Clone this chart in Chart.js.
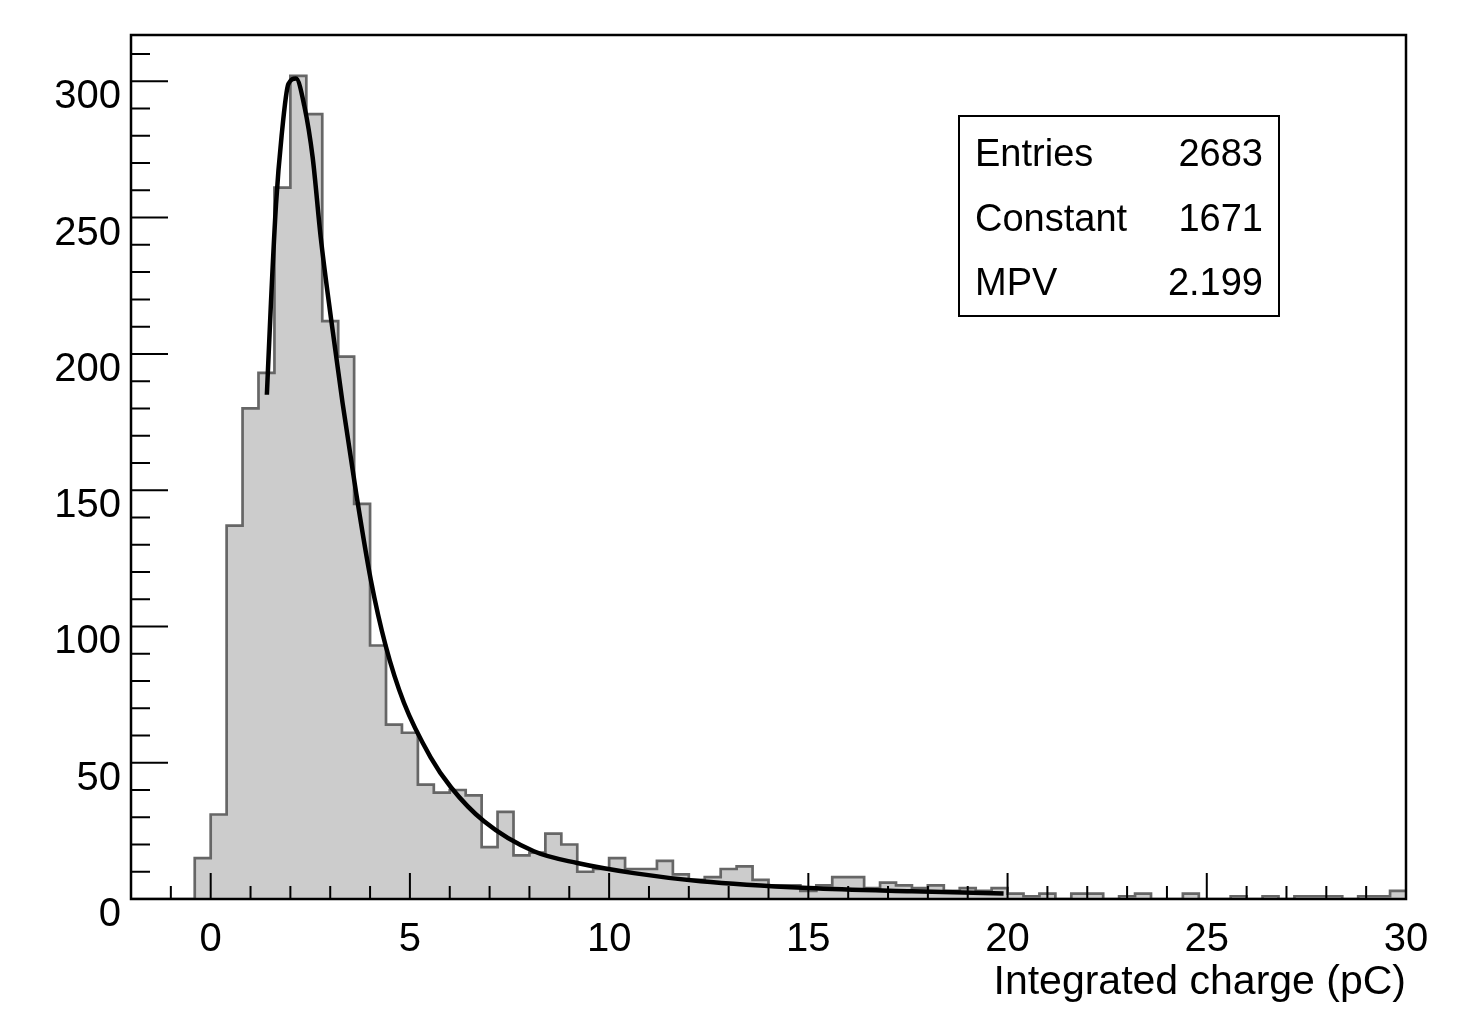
<!DOCTYPE html>
<html>
<head>
<meta charset="utf-8">
<script src="https://cdn.jsdelivr.net/npm/chart.js@4.4.1/dist/chart.umd.min.js"></script>
<style>
  body { margin: 0; background: #fff; }
  #wrap { width: 1457px; height: 1010px; }
</style>
</head>
<body>
<div id="wrap"><canvas id="histChart"></canvas></div>
<script>
// histogram: 80 bins of 0.4 pC from -2 to 30
const binLow = -2;
const binWidth = 0.4;
const counts = [
  0, 0, 0, 0, 15, 31, 137, 180, 193, 261,
  302, 288, 212, 199, 145, 93, 64, 61, 42, 39,
  40, 38, 19, 32, 16, 17, 24, 20, 10, 11,
  15, 11, 11, 14, 9, 7, 8, 11, 12, 7,
  5, 5, 3, 5, 8, 8, 4, 6, 5, 4,
  5, 3, 4, 3, 4, 2, 1, 2, 0, 2,
  2, 0, 1, 2, 0, 0, 2, 0, 0, 1,
  0, 1, 0, 1, 1, 1, 0, 1, 1, 3
];

// landau fit curve
const fitX = [1.41, 1.51, 1.64, 1.78, 1.95, 2.14, 2.35, 2.56, 2.76, 3.02, 3.31, 3.64, 4.02, 4.39, 4.85, 5.52, 6.03, 6.86, 8.11, 9.2, 10.62, 12.3, 15.0, 17.6, 19.9];
const fitY = [185, 218, 255, 280, 299, 301, 291, 272, 243, 213, 182, 150, 117, 93, 72, 52, 41, 28.5, 17.5, 13.2, 9.5, 6.5, 4, 2.8, 2];

const statNames = ['Entries', 'Constant', 'MPV'];
const statValues = ['2683', '1671', '2.199'];

const xMajorTicks = [0, 5, 10, 15, 20, 25, 30];
const yMajorTicks = [0, 50, 100, 150, 200, 250, 300];

// step outline points: left edge of each bin + closing right edge
const histPoints = counts.map((c, i) => ({ x: binLow + i * binWidth, y: c }));
histPoints.push({ x: binLow + counts.length * binWidth, y: counts[counts.length - 1] });
const fitPoints = fitX.map((x, i) => ({ x: x, y: fitY[i] }));

Chart.defaults.font.family = '"Liberation Sans", Arial, Helvetica, sans-serif';
Chart.defaults.color = '#000';

// ROOT style frame with inward ticks + stats box
const framePlugin = {
  id: 'frame',
  afterDatasetsDraw(chart) {
    const { ctx, chartArea: a, scales } = chart;
    const xs = scales.x, ys = scales.y;
    ctx.save();
    ctx.strokeStyle = '#000';
    ctx.lineWidth = 2;
    ctx.beginPath();
    for (let v = -1; v <= 29; v++) {
      const px = xs.getPixelForValue(v);
      const len = xMajorTicks.includes(v) ? 26 : 13;
      ctx.moveTo(px, a.bottom);
      ctx.lineTo(px, a.bottom - len);
    }
    for (let v = 0; v <= 310; v += 10) {
      const py = ys.getPixelForValue(v);
      const len = yMajorTicks.includes(v) ? 37 : 19;
      ctx.moveTo(a.left, py);
      ctx.lineTo(a.left + len, py);
    }
    ctx.stroke();
    ctx.lineWidth = 2.5;
    ctx.strokeRect(a.left, a.top, a.right - a.left, a.bottom - a.top);
    ctx.restore();
  },
  afterDraw(chart) {
    const ctx = chart.ctx;
    ctx.save();
    ctx.fillStyle = '#fff';
    ctx.fillRect(959, 116, 320, 200);
    ctx.strokeStyle = '#000';
    ctx.lineWidth = 2;
    ctx.strokeRect(959, 116, 320, 200);
    ctx.fillStyle = '#000';
    ctx.font = '38px "Liberation Sans", Arial, sans-serif';
    const baselines = [166, 231, 295];
    statNames.forEach((name, i) => {
      ctx.textAlign = 'left';
      ctx.fillText(name, 975, baselines[i]);
      ctx.textAlign = 'right';
      ctx.fillText(statValues[i], 1263, baselines[i]);
    });
    ctx.restore();
  }
};

new Chart(document.getElementById('histChart'), {
  type: 'line',
  data: {
    datasets: [
      {
        label: 'fit',
        data: fitPoints,
        borderColor: '#000',
        borderWidth: 4.5,
        pointRadius: 0,
        fill: false,
        cubicInterpolationMode: 'monotone',
        order: 0
      },
      {
        label: 'charge',
        data: histPoints,
        stepped: 'before',
        borderColor: '#666666',
        borderWidth: 2.7,
        backgroundColor: '#cccccc',
        fill: 'origin',
        pointRadius: 0,
        order: 1
      }
    ]
  },
  options: {
    responsive: true,
    maintainAspectRatio: false,
    animation: false,
    layout: { padding: { top: 35, right: 51, left: 0, bottom: 0 } },
    plugins: { legend: { display: false }, tooltip: { enabled: false } },
    scales: {
      x: {
        type: 'linear',
        min: -2,
        max: 30,
        grid: { display: false, drawTicks: false },
        border: { display: false },
        ticks: { stepSize: 5, includeBounds: false, padding: 17, font: { size: 40 }, maxRotation: 0 },
        title: {
          display: true,
          text: 'Integrated charge (pC)',
          align: 'end',
          font: { size: 41 },
          padding: { top: 0, bottom: 3 }
        },
        afterFit(scale) { scale.height = 111; }
      },
      y: {
        min: 0,
        max: 317,
        grid: { display: false, drawTicks: false },
        border: { display: false },
        ticks: { stepSize: 50, includeBounds: false, padding: 10, labelOffset: 16, font: { size: 40 } },
        afterFit(scale) { scale.width = 131; }
      }
    }
  },
  plugins: [framePlugin]
});
</script>
</body>
</html>
